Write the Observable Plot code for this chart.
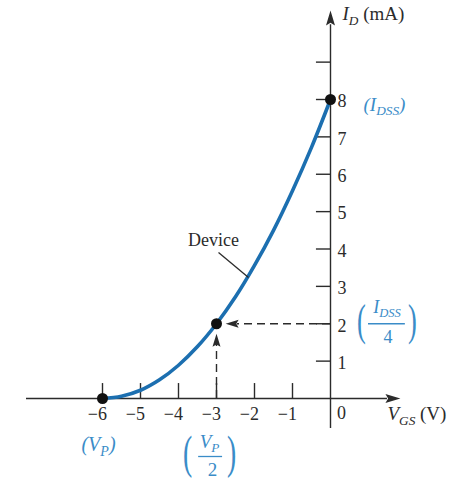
<!DOCTYPE html>
<html>
<head>
<meta charset="utf-8">
<script src="https://cdn.jsdelivr.net/npm/d3@7"></script>
<script src="https://cdn.jsdelivr.net/npm/@observablehq/plot@0.6"></script>
<style>
  body { margin: 0; background: #fff; }
  svg { display: block; }
</style>
</head>
<body>
<div id="chart"></div>
<script>
// JFET transfer characteristic: drain current I_D (mA) against gate-source voltage V_GS (V)
const vgs  = [-6, -5.5, -5, -4.5, -4, -3.5, -3, -2.5, -2, -1.5, -1, -0.5, 0];
const idmA = [0, 0.06, 0.22, 0.5, 0.89, 1.39, 2, 2.72, 3.56, 4.5, 5.56, 6.72, 8];

// marked points: V_P, V_P/2 and I_DSS
const keyVgs = [-6, -3, 0];
const keyId  = [0, 2, 8];

const xTicks = [-6, -5, -4, -3, -2, -1];
const xTickLabels = ["−6", "−5", "−4", "−3", "−2", "−1"];
const yTicks = [1, 2, 3, 4, 5, 6, 7, 8, 9];
const yTickLabels = ["1", "2", "3", "4", "5", "6", "7", "8"];

const curve = vgs.map((v, i) => ({v, id: idmA[i]}));
const keys = keyVgs.map((v, i) => ({v, id: keyId[i]}));

const ink = "#2b2b2b";
const blue = "#3a8cc8";
const lineBlue = "#1c6fb0";
const serif = "'Liberation Serif', 'Times New Roman', serif";

// slim arrowhead, tip at the origin, pointing up before rotation
const head = (len, half) => ({
  draw(ctx) {
    ctx.moveTo(0, 0);
    ctx.lineTo(half, len);
    ctx.lineTo(0, len * 0.82);
    ctx.lineTo(-half, len);
    ctx.closePath();
  }
});

// a text annotation attached to a data position
const note = (v, id, text, o = {}) =>
  Plot.text([{v, id, text}], {x: "v", y: "id", text: "text", fontFamily: serif, fill: ink, fontSize: 18, ...o});

const svg = Plot.plot({
  width: 457,
  height: 479,
  margin: 0,
  x: {domain: [-6, 0], range: [102, 330], axis: null},
  y: {domain: [0, 8], range: [398, 99], axis: null},
  marks: [
    // axes
    Plot.ruleY([0], {x1: -8, x2: 1.5, stroke: ink, strokeWidth: 1.4}),
    Plot.ruleX([0], {y1: -0.8, y2: 10.0, stroke: ink, strokeWidth: 1.4}),
    Plot.dot([{v: 1.84, id: 0}], {x: "v", y: "id", symbol: head(15, 4.5), rotate: 90, fill: ink, stroke: "none"}),
    Plot.dot([{v: 0, id: 10.38}], {x: "v", y: "id", symbol: head(15, 4.5), rotate: 0, fill: ink, stroke: "none"}),
    Plot.ruleX(xTicks, {y1: 0, y2: 0.4, stroke: ink, strokeWidth: 1.4}),
    Plot.ruleY(yTicks, {x1: -0.37, x2: 0, stroke: ink, strokeWidth: 1.4}),

    // tick labels
    Plot.text(xTicks, {x: d => d, y: 0, text: (d, i) => xTickLabels[i], textAnchor: "end", dx: 4.5, dy: 16, fontFamily: serif, fontSize: 18, fill: ink}),
    note(0, 0, "0", {dx: 11, dy: 15}),
    Plot.text(yTicks.slice(0, yTickLabels.length), {x: 0, y: d => d, text: (d, i) => yTickLabels[i], textAnchor: "start", dx: 7, dy: 2, fontFamily: serif, fontSize: 18, fill: ink}),

    // axis titles
    note(0, 10.38, "*I*_{D} (mA)", {textAnchor: "start", lineAnchor: "bottom", dx: 12, dy: 9, fontSize: 19}),
    note(1.84, 0, "*V*_{GS} (V)", {textAnchor: "start", dx: -13, dy: 15, fontSize: 19}),

    // dashed guides to the V_P/2 point
    Plot.ruleY([2], {x1: 0, x2: -2.45, stroke: ink, strokeWidth: 1.4, strokeDasharray: "8,5"}),
    Plot.ruleX([-3], {y1: 0, y2: 1.45, stroke: ink, strokeWidth: 1.4, strokeDasharray: "8,5"}),
    Plot.dot([{v: -2.76, id: 2}], {x: "v", y: "id", symbol: head(13, 4), rotate: -90, fill: ink, stroke: "none"}),
    Plot.dot([{v: -3, id: 1.73}], {x: "v", y: "id", symbol: head(13, 4), rotate: 0, fill: ink, stroke: "none"}),

    // the device curve
    Plot.line(curve, {x: "v", y: "id", curve: "catmull-rom", stroke: lineBlue, strokeWidth: 3.6}),
    Plot.dot(keys, {x: "v", y: "id", r: 5.5, fill: "#111", stroke: "none"}),

    // "Device" callout
    Plot.link([{v1: -2.947, i1: 3.906, v2: -2.158, i2: 3.237}], {x1: "v1", y1: "i1", x2: "v2", y2: "i2", stroke: ink, strokeWidth: 1.3}),
    note(-2.947, 3.906, "Device", {dx: -5, dy: -12, fontSize: 18}),

    // I_DSS label
    note(0, 8, "(I_{DSS})", {textAnchor: "start", lineAnchor: "bottom", dx: 33, dy: 11, fontStyle: "italic", fill: blue, fontSize: 19}),

    // I_DSS / 4 label
    note(0, 2, "(", {dx: 31, dy: -3, fontSize: 44, fill: blue}),
    note(0, 2, "*I*_{DSS}", {dx: 56.5, dy: -11, lineAnchor: "bottom", fill: blue, fontSize: 18}),
    Plot.ruleY([2], {x1: 1.0, x2: 1.97, stroke: blue, strokeWidth: 1.3}),
    note(0, 2, "4", {dx: 57.5, dy: 13, fill: blue, fontSize: 18}),
    note(0, 2, ")", {dx: 82, dy: -3, fontSize: 44, fill: blue}),

    // V_P label
    note(-6, 0, "(V_{P})", {dx: -4, dy: 46, fontStyle: "italic", fill: blue, fontSize: 20}),

    // V_P / 2 label
    note(-3, 0, "(", {dx: -29, dy: 55, fontSize: 46, fill: blue}),
    note(-3, 0, "*V*_{P}", {dx: -7, dy: 49, lineAnchor: "bottom", fill: blue, fontSize: 19}),
    Plot.ruleY([0], {x1: -3.47, x2: -2.84, dy: 58, stroke: blue, strokeWidth: 1.3}),
    note(-3, 0, "2", {dx: -4, dy: 71, fill: blue, fontSize: 19}),
    note(-3, 0, ")", {dx: 15, dy: 55, fontSize: 46, fill: blue})
  ]
});

document.getElementById("chart").append(svg);

// typeset italics (*x*) and subscripts (_{x}); squeeze the tall bracket glyphs
d3.select(svg).selectAll("text").each(function() {
  const s = this.textContent;
  const fs = parseFloat(getComputedStyle(this).fontSize) || 16;
  if (s === "(" || s === ")") {
    this.setAttribute("textLength", (0.2 * fs).toFixed(1));
    this.setAttribute("lengthAdjust", "spacingAndGlyphs");
    return;
  }
  if (!/[*_]/.test(s)) return;
  const parts = s.match(/\*[^*]+\*|_\{[^}]+\}|[^*_]+/g);
  const shift = 0.26 * fs;
  this.textContent = "";
  let down = false;
  for (const p of parts) {
    const t = d3.select(this).append("tspan");
    if (p.startsWith("_{")) {
      t.text(p.slice(2, -1)).attr("font-size", 0.7 * fs).attr("font-style", "italic");
      if (!down) t.attr("dy", shift);
      down = true;
    } else {
      if (down) { t.attr("dy", -shift); down = false; }
      if (p.startsWith("*")) t.text(p.slice(1, -1)).attr("font-style", "italic");
      else t.text(p);
    }
  }
});
</script>
</body>
</html>
